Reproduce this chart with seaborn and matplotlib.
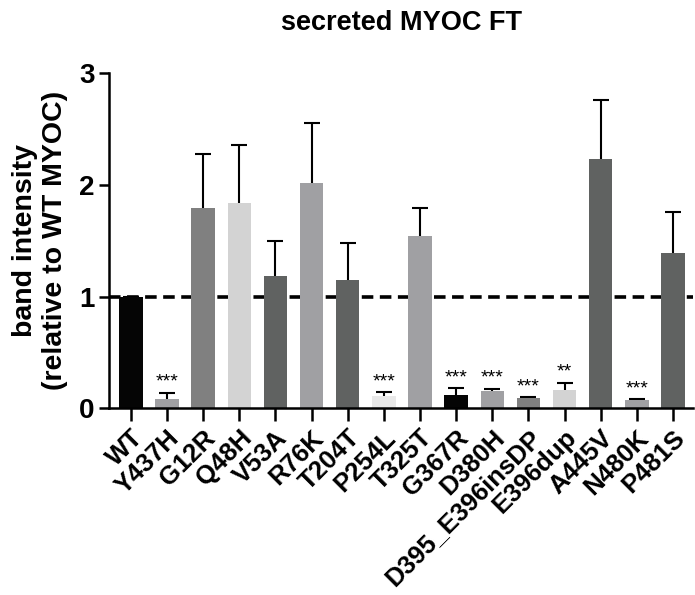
import numpy as np
import pandas as pd
import matplotlib.pyplot as plt
import seaborn as sns

# values
mutants = ['WT', 'Y437H', 'G12R', 'Q48H', 'V53A', 'R76K', 'T204T', 'P254L',
           'T325T', 'G367R', 'D380H', 'D395_E396insDP', 'E396dup', 'A445V',
           'N480K', 'P481S']
means = [1.0, 0.078, 1.794, 1.833, 1.181, 2.015, 1.145, 0.105,
         1.543, 0.12, 0.15, 0.087, 0.159, 2.233, 0.069, 1.387]
errors = [0.0, 0.06, 0.484, 0.523, 0.32, 0.535, 0.332, 0.039,
          0.251, 0.057, 0.024, 0.012, 0.069, 0.527, 0.012, 0.368]
stars = ['', '***', '', '', '', '', '', '***',
         '', '***', '***', '***', '**', '', '***', '']
bar_colors = ['#050505', '#a0a0a3', '#808080', '#d3d3d3', '#606261', '#a0a0a3',
              '#606261', '#e8e8e8', '#a0a0a3', '#050505', '#a0a0a3', '#808080',
              '#d3d3d3', '#606261', '#a0a0a3', '#606261']

df = pd.DataFrame({'mutant': mutants, 'intensity': means})

sns.set_theme(style="ticks")
plt.rcParams['font.family'] = ['Liberation Sans', 'DejaVu Sans']
for key in ['text.color', 'axes.labelcolor', 'xtick.color', 'ytick.color', 'axes.edgecolor']:
    plt.rcParams[key] = 'black'

fig = plt.figure(figsize=(6.95, 5.95), dpi=100)
ax = fig.add_axes([0.157, 0.314, 0.84, 0.563])

# reference line at 1 (behind bars)
ax.axhline(1, color='black', lw=2.6, ls=(0, (3.2, 1.8)), zorder=0)

sns.barplot(data=df, x='mutant', y='intensity', hue='mutant', palette=bar_colors,
            legend=False, width=0.65, linewidth=0, saturation=1, ax=ax, zorder=2)

# upper error bars only
x = np.arange(len(mutants))
eb = ax.errorbar(x, means, yerr=[np.zeros(len(errors)), errors], fmt='none',
                 ecolor='black', elinewidth=1.5, capsize=5.5, capthick=1.5, zorder=1)
eb[1][0].set_visible(False)

for i, s in enumerate(stars):
    if s:
        ax.annotate(s, (i, means[i] + errors[i]), xytext=(0, 1.5),
                    textcoords='offset points', ha='center', va='bottom',
                    fontsize=14, fontweight='normal')

ax.set_xlim(-0.6, 15.55)
ax.set_ylim(0, 3)
ax.set_yticks([0, 1, 2, 3])
ax.set_title('secreted MYOC FT', fontsize=19.5, fontweight='bold', pad=31)
ax.set_ylabel('band intensity\n(relative to WT MYOC)', fontsize=20.5,
              fontweight='bold', labelpad=8)
ax.set_xlabel('')

ax.tick_params(axis='y', labelsize=20, length=7, width=1.8)
ax.tick_params(axis='x', labelsize=18.5, length=9, width=1.8)
plt.setp(ax.get_xticklabels(), rotation=45, ha='right', rotation_mode='anchor')
for lab in ax.get_xticklabels() + ax.get_yticklabels():
    lab.set_fontweight('bold')

for side in ['left', 'bottom']:
    ax.spines[side].set_linewidth(1.8)
sns.despine(ax=ax)

fig.savefig('out.png', dpi=100)
